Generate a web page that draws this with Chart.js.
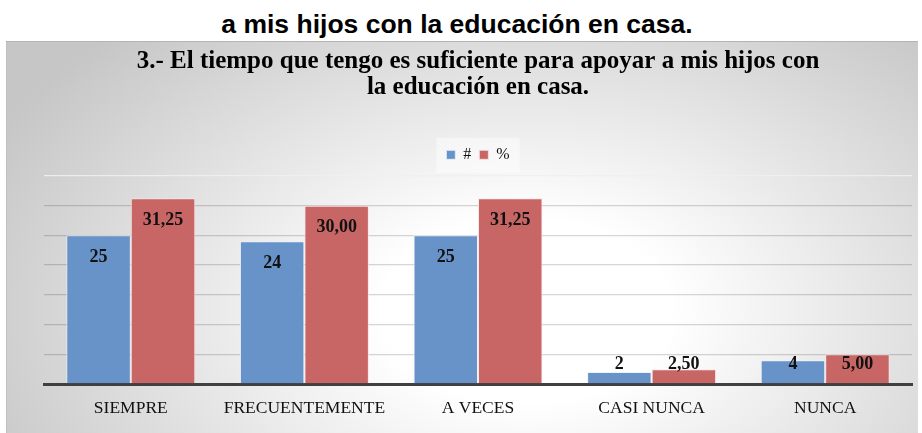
<!DOCTYPE html>
<html>
<head>
<meta charset="utf-8">
<script src="https://cdn.jsdelivr.net/npm/chart.js@4.4.0/dist/chart.umd.min.js"></script>
<style>
html,body{margin:0;padding:0;background:#fff;width:922px;height:433px;overflow:hidden;}
#head{position:absolute;left:-4px;top:9px;width:922px;text-align:center;font:bold 26.5px "Liberation Sans",Arial,sans-serif;color:#000;line-height:30px;white-space:nowrap;}
#box{position:absolute;left:6px;top:41px;width:912px;height:392px;
  background:radial-gradient(ellipse 600px 380px at 520px 270px,#ffffff 0%,#ffffff 24%,#c6c6c6 100%);
  box-shadow:inset 0 1px 0 #b4b4b4, inset 1px 0 0 #c0c0c0;}
canvas{position:absolute;left:0;top:0;}
</style>
</head>
<body>
<div id="head">a mis hijos con la educación en casa.</div>
<div id="box"><canvas id="c" width="912" height="392"></canvas></div>
<script>
const categories = ["SIEMPRE", "FRECUENTEMENTE", "A VECES", "CASI NUNCA", "NUNCA"];
const countValues = [25, 24, 25, 2, 4];
const percentValues = [31.25, 30.00, 31.25, 2.50, 5.00];
const seriesNames = ["#", "%"];
const titleLines = ["3.- El tiempo que tengo es suficiente para apoyar a mis hijos con", "la educación en casa."];

const SERIF = '"Liberation Serif", "Times New Roman", serif';

const labelPlugin = {
  id: 'barLabels',
  afterDatasetsDraw(chart) {
    const ctx = chart.ctx;
    const bottom = chart.chartArea.bottom;
    ctx.save();
    ctx.font = 'bold 18px ' + SERIF;
    ctx.fillStyle = '#111';
    ctx.textAlign = 'center';
    ctx.textBaseline = 'middle';
    chart.data.datasets.forEach((ds, di) => {
      const meta = chart.getDatasetMeta(di);
      meta.data.forEach((el, i) => {
        const v = ds.data[i];
        const txt = di === 0 ? String(v) : v.toFixed(2).replace('.', ',');
        const y = Math.min(el.y + 22, bottom - 20);
        ctx.fillText(txt, el.x, y);
      });
    });
    ctx.restore();
  }
};

const legendGap = {
  id: 'legendGap',
  beforeLayout(chart) {
    const lg = chart.legend;
    if (lg && !lg._gapWrapped) {
      const f = lg.fit;
      lg.fit = function () { f.call(this); this.height += 3.1; };
      lg._gapWrapped = true;
    }
  }
};

const legendBg = {
  id: 'legendBg',
  beforeDraw(chart) {
    const lg = chart.legend;
    if (!lg || !lg.legendHitBoxes || !lg.legendHitBoxes.length) return;
    const hb = lg.legendHitBoxes;
    let l = Infinity, r = -Infinity, cy = 0;
    hb.forEach(b => { l = Math.min(l, b.left); r = Math.max(r, b.left + b.width); cy = b.top + b.height / 2; });
    const ctx = chart.ctx;
    ctx.save();
    ctx.fillStyle = 'rgba(255,255,255,0.45)';
    ctx.fillRect(l - 10, cy - 17, (r - l) + 20, 35);
    ctx.restore();
  }
};

new Chart(document.getElementById('c'), {
  type: 'bar',
  data: {
    labels: categories,
    datasets: [
      { label: seriesNames[0], data: countValues, backgroundColor: 'rgb(104,147,201)', borderColor: 'rgba(235,240,250,0.85)', borderWidth: 1 },
      { label: seriesNames[1], data: percentValues, backgroundColor: 'rgb(200,102,102)', borderColor: 'rgba(250,225,225,0.85)', borderWidth: 1 }
    ]
  },
  options: {
    responsive: false,
    animation: false,
    events: [],
    layout: { padding: { top: 6.8, left: 38, right: 6, bottom: 0 } },
    datasets: { bar: { categoryPercentage: 0.743, barPercentage: 1.0 } },
    plugins: {
      title: {
        display: true,
        text: titleLines,
        color: '#000',
        font: { family: SERIF, size: 25, weight: 'bold', lineHeight: 1.064 },
        padding: { top: 0, bottom: 37.8 }
      },
      legend: {
        display: true,
        position: 'top',
        labels: {
          boxWidth: 9, boxHeight: 9, padding: 8,
          color: '#111',
          font: { family: SERIF, size: 16 }
        }
      },
      tooltip: { enabled: false }
    },
    scales: {
      x: {
        grid: { display: false, drawTicks: false },
        border: { display: true, color: '#404040', width: 3 },
        ticks: { color: '#111', font: { family: SERIF, size: 17.5 }, padding: 14 },
        afterFit(s) { s.height = 49; }
      },
      y: {
        min: 0, max: 35,
        ticks: { display: false, stepSize: 5 },
        border: { display: false },
        grid: {
          drawTicks: false,
          lineWidth: 1.3,
          color: (c) => (c.tick && c.tick.value === 35) ? 'rgba(240,240,240,0.9)' : 'rgba(0,0,0,0.16)'
        },
        afterFit(s) { s.width = 0; }
      }
    }
  },
  plugins: [legendGap, legendBg, labelPlugin]
});
</script>
</body>
</html>
